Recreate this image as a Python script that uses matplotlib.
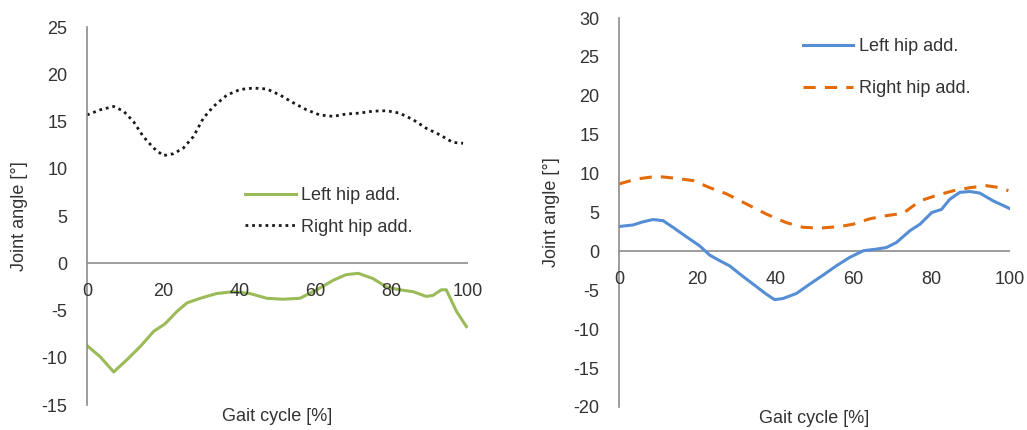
import matplotlib
matplotlib.use("Agg")
import matplotlib.pyplot as plt

plt.rcParams['font.family'] = ['Liberation Sans', 'DejaVu Sans']

# Left panel data
l_left_x = [0, 3.5, 7, 10.5, 14, 17.5, 20.5, 23.6, 26.2, 29.7, 34, 38.4, 42.8, 47.2, 51.5,
            55.9, 60.3, 64.6, 68, 71.2, 75, 78.6, 82, 85.6, 89, 90.8, 93, 94.3, 97, 99.6]
l_left_y = [-8.7, -9.9, -11.5, -10.2, -8.8, -7.2, -6.4, -5.1, -4.2, -3.7, -3.2, -3.0, -3.2, -3.7, -3.8,
            -3.7, -2.8, -1.8, -1.2, -1.06, -1.6, -2.5, -2.8, -3.0, -3.5, -3.4, -2.8, -2.8, -5.1, -6.7]
l_right_x = [0, 3.5, 7, 9.6, 12.2, 14.8, 17.5, 20, 22.7, 25.3, 27.9, 30.6, 33.2, 36.7, 40.2,
             43.7, 47.2, 50.7, 54.1, 57.6, 61.1, 64.6, 68, 71.6, 75, 78.6, 82, 85.6, 89, 92.6, 96, 98.7]
l_right_y = [15.7, 16.25, 16.6, 16.1, 15.0, 13.4, 12.2, 11.4, 11.6, 12.2, 13.4, 15.4, 16.6, 17.8, 18.4,
             18.55, 18.45, 17.8, 17.0, 16.25, 15.7, 15.55, 15.8, 15.9, 16.1, 16.15, 15.9, 15.2, 14.3, 13.6, 12.8, 12.7]

# Right panel data
r_left_x = [0, 3.6, 6.1, 8.7, 11.3, 13.8, 17.2, 20.6, 23.2, 25.8, 28.3, 30.9, 34.3, 37.7, 39.8, 42,
            45.4, 48.8, 52.2, 55.6, 59, 62.5, 65.9, 68.4, 71, 74.4, 77, 80, 82.5, 84.6, 87.2, 89.8,
            92.3, 95.7, 100]
r_left_y = [3.2, 3.4, 3.8, 4.1, 3.95, 3.1, 1.9, 0.73, -0.47, -1.2, -1.85, -2.9, -4.2, -5.5, -6.2, -6.05,
            -5.4, -4.2, -3.05, -1.85, -0.77, 0.09, 0.3, 0.5, 1.16, 2.66, 3.5, 5.0, 5.4, 6.7, 7.6, 7.7,
            7.5, 6.5, 5.5]
r_right_x = [0, 4.4, 9.6, 14.7, 19, 23.2, 27.5, 32.6, 37.7, 42.8, 47.1, 51.4, 56.5, 59.9, 64.2,
             68.4, 72.7, 77, 81.2, 85.5, 89.8, 94, 97.4, 99.6]
r_right_y = [8.67, 9.3, 9.65, 9.4, 9.1, 8.2, 7.4, 6.1, 4.8, 3.7, 3.1, 3.0, 3.2, 3.5, 4.2,
             4.6, 4.9, 6.5, 7.2, 7.8, 8.2, 8.45, 8.2, 7.8]

x_ticks = [0, 20, 40, 60, 80, 100]
left_yticks = list(range(-15, 26, 5))
right_yticks = list(range(-20, 31, 5))
label_left = "Left hip add."
label_right = "Right hip add."
xlabel = "Gait cycle [%]"
ylabel = "Joint angle [°]"

TXT = '#333333'
AX = '#8c8c8c'
FS = 13

fig = plt.figure(figsize=(10.27, 4.30), dpi=100)
axL = fig.add_axes([0.0847, 0.058, 0.371, 0.879])
axR = fig.add_axes([0.6027, 0.0535, 0.3807, 0.9045])


def style(ax, yticks):
    for s in ['top', 'right', 'bottom']:
        ax.spines[s].set_visible(False)
    ax.spines['left'].set_color(AX)
    ax.spines['left'].set_linewidth(1.2)
    ax.axhline(0, color=AX, lw=1.2, zorder=1)
    ax.set_xlim(0, 100)
    ax.set_ylim(yticks[0], yticks[-1])
    ax.set_yticks(yticks)
    ax.set_yticklabels([str(v) for v in yticks])
    ax.set_xticks([])
    ax.tick_params(axis='y', length=0, pad=14, labelsize=FS, labelcolor=TXT)
    for xt in x_ticks:
        ax.annotate(str(xt), xy=(xt, 0), xytext=(0, -14), textcoords='offset points',
                    ha='center', va='top', fontsize=FS, color=TXT)
    ax.set_xlabel(xlabel, fontsize=FS, color=TXT, labelpad=2)
    ax.set_ylabel(ylabel, fontsize=FS, color=TXT, labelpad=10)


axL.plot(l_left_x, l_left_y, color='#9bbb59', lw=2.2, label=label_left)
axL.plot(l_right_x, l_right_y, color='#1a1a1a', lw=2.0, ls=(0, (1, 1.4)), label=label_right)
style(axL, left_yticks)
axL.legend(loc='upper left', bbox_to_anchor=(0.372, 0.62), frameon=False, fontsize=FS,
           handlelength=2.8, handletextpad=0.3, labelspacing=0.82, labelcolor=TXT)

axR.plot(r_left_x, r_left_y, color='#558ed5', lw=2.2, label=label_left)
axR.plot(r_right_x, r_right_y, color='#e36c09', lw=2.2, ls=(0, (4, 3)), label=label_right)
style(axR, right_yticks)
axR.legend(loc='upper left', bbox_to_anchor=(0.428, 0.99), frameon=False, fontsize=FS,
           handlelength=2.8, handletextpad=0.3, labelspacing=1.37, labelcolor=TXT)

fig.savefig('out.png', dpi=100)
